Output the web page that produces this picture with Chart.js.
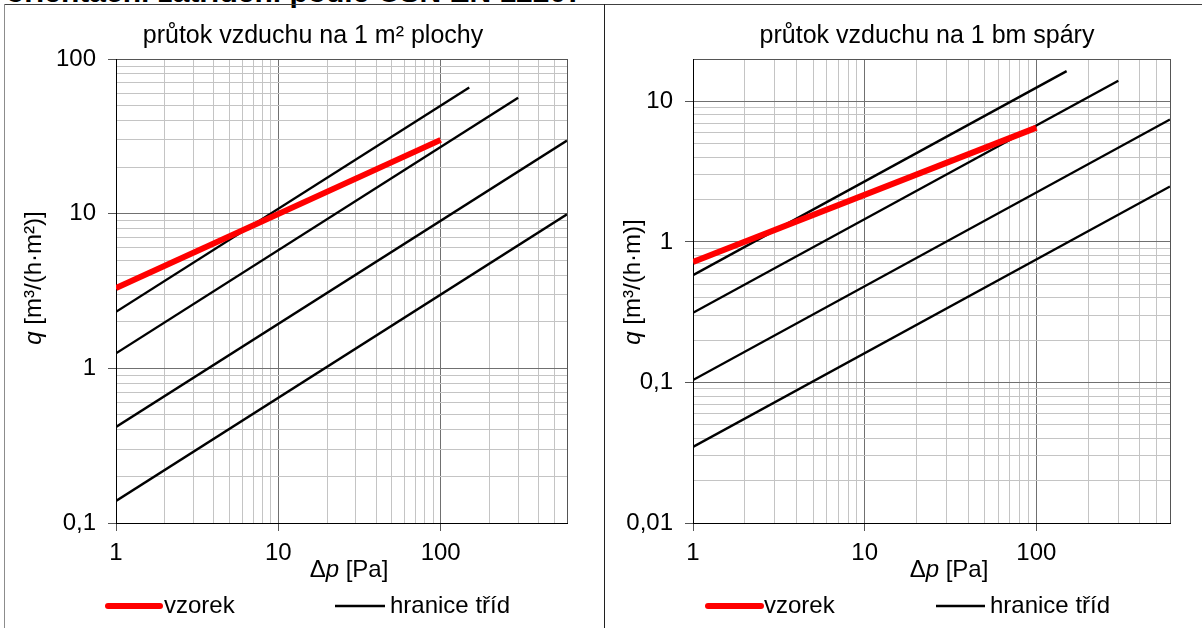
<!DOCTYPE html>
<html>
<head>
<meta charset="utf-8">
<script src="https://cdn.jsdelivr.net/npm/chart.js@4.4.1/dist/chart.umd.min.js"></script>
<style>
  body { margin: 0; background: #fff; width: 1202px; height: 628px; overflow: hidden; position: relative; }
  #heading { position: absolute; left: 6px; top: -23px; font: bold 30px/30px "Liberation Sans", Arial, sans-serif; white-space: nowrap; color: #000; }
  #frameTop { position: absolute; left: 4px; top: 4px; width: 1198px; height: 1px; background: #404040; }
  #frameLeft { position: absolute; left: 4px; top: 4px; width: 1px; height: 624px; background: #8c8c8c; }
  #frameMid { position: absolute; left: 604px; top: 4px; width: 1px; height: 624px; background: #202020; }
  #leftBox { position: absolute; left: 0; top: 0; }
  #rightBox { position: absolute; left: 605px; top: 0; }
</style>
</head>
<body>
<div id="heading">orientační zatřídění podle ČSN EN 12207</div>
<div id="leftBox"><canvas id="areaChart" width="604" height="628"></canvas></div>
<div id="rightBox"><canvas id="lengthChart" width="597" height="628"></canvas></div>
<div id="frameTop"></div>
<div id="frameLeft"></div>
<div id="frameMid"></div>
<script>
/******************************************************************
DATA
******************************************************************/

// tick / gridline values
var pressureTicks = [1, 2, 3, 4, 5, 6, 7, 8, 9, 10, 20, 30, 40, 50, 60, 70, 80, 90, 100, 200, 300, 400, 500, 600];
var pressureMajor = [1, 10, 100];
var pressureLabels = ["1", "10", "100"];

var areaTicks = [0.1, 0.2, 0.3, 0.4, 0.5, 0.6, 0.7, 0.8, 0.9, 1, 2, 3, 4, 5, 6, 7, 8, 9, 10, 20, 30, 40, 50, 60, 70, 80, 90, 100];
var areaMajor = [0.1, 1, 10, 100];
var areaLabels = ["0,1", "1", "10", "100"];

var lengthTicks = [0.01, 0.02, 0.03, 0.04, 0.05, 0.06, 0.07, 0.08, 0.09, 0.1, 0.2, 0.3, 0.4, 0.5, 0.6, 0.7, 0.8, 0.9, 1, 2, 3, 4, 5, 6, 7, 8, 9, 10, 20];
var lengthMajor = [0.01, 0.1, 1, 10];
var lengthLabels = ["0,01", "0,1", "1", "10"];

// vzorek (sample)
var samplePressure = [1, 100];
var sampleArea = [3.3, 30];
var sampleLength = [0.72, 6.5];

// hranice tříd (class limits 1..4)
var classPressure = [[1, 150], [1, 300], [1, 600], [1, 600]];
var classArea = [[2.32, 65.5], [1.25, 56.2], [0.418, 29.7], [0.139, 9.9]];
var classLength = [[0.58, 16.4], [0.313, 14.0], [0.104, 7.43], [0.0348, 2.48]];

/******************************************************************
HELPERS
******************************************************************/

var FONT = '"Liberation Sans", Arial, sans-serif';

function points(xs, ys) {
  return xs.map(function (x, i) { return { x: x, y: ys[i] }; });
}

function buildDatasets(sample, classes) {
  var sets = [{
    label: "vzorek",
    data: points(samplePressure, sample),
    borderColor: "#ff0000",
    borderWidth: 6,
    showLine: true,
    pointRadius: 0
  }];
  classes.forEach(function (c, i) {
    sets.push({
      label: "hranice tříd",
      data: points(classPressure[i], c),
      borderColor: "#000000",
      borderWidth: 2.4,
      showLine: true,
      pointRadius: 0
    });
  });
  return sets;
}

function logScale(ticks, majors, labels, min, max, fit) {
  return {
    type: "logarithmic",
    min: min,
    max: max,
    afterBuildTicks: function (scale) {
      scale.ticks = ticks.map(function (v) { return { value: v }; });
    },
    afterFit: fit,
    border: { display: true, color: "#000", width: 1 },
    grid: {
      drawTicks: true,
      tickLength: 8,
      lineWidth: 1,
      color: function (ctx) {
        if (!ctx.tick) return "#c4c4c4";
        var v = ctx.tick.value;
        if (v === max) return "#555";
        return majors.indexOf(v) >= 0 ? "#707070" : "#c4c4c4";
      },
      tickColor: function (ctx) {
        if (!ctx.tick) return "rgba(0,0,0,0)";
        return majors.indexOf(ctx.tick.value) >= 0 ? "#555" : "rgba(0,0,0,0)";
      }
    },
    ticks: {
      autoSkip: false,
      maxRotation: 0,
      minRotation: 0,
      color: "#000",
      font: { family: FONT, size: 24 },
      callback: function (value) {
        var i = majors.indexOf(value);
        return i >= 0 ? labels[i] : "";
      }
    }
  };
}

function drawRich(ctx, parts, cx, cy, rotate, baseline, size) {
  var widths = parts.map(function (p) {
    ctx.font = (p.italic ? "italic " : "") + size + "px " + FONT;
    return ctx.measureText(p.t).width;
  });
  var total = widths.reduce(function (a, b) { return a + b; }, 0);
  ctx.save();
  ctx.translate(cx, cy);
  if (rotate) ctx.rotate(-Math.PI / 2);
  ctx.textBaseline = baseline;
  ctx.textAlign = "left";
  var x = -total / 2;
  parts.forEach(function (p, i) {
    ctx.font = (p.italic ? "italic " : "") + size + "px " + FONT;
    ctx.fillText(p.t, x, 0);
    x += widths[i];
  });
  ctx.restore();
}

// titles, axis titles and legend drawn onto the canvas
var decor = {
  id: "decor",
  afterDraw: function (chart, args, opts) {
    var ctx = chart.ctx;
    ctx.save();
    ctx.fillStyle = "#000";
    drawRich(ctx, [{ t: opts.title }], opts.titleX, opts.titleY, false, "alphabetic", 25);
    drawRich(ctx, opts.yTitle, opts.yTitleX, opts.yTitleY, true, "middle", 24);
    drawRich(ctx, [{ t: "Δ" }, { t: "p", italic: true }, { t: " [Pa]" }], opts.xTitleX, opts.xTitleY, false, "alphabetic", 24);

    opts.legend.forEach(function (item) {
      var ds = chart.data.datasets[item.dataset];
      ctx.beginPath();
      ctx.strokeStyle = ds.borderColor;
      ctx.lineWidth = ds.borderWidth;
      ctx.lineCap = item.dataset === 0 ? "round" : "butt";
      ctx.moveTo(item.x1, opts.legendY);
      ctx.lineTo(item.x2, opts.legendY);
      ctx.stroke();
      ctx.font = "24px " + FONT;
      ctx.textBaseline = "alphabetic";
      ctx.textAlign = "left";
      ctx.fillText(ds.label, item.textX, opts.legendTextY);
    });
    ctx.restore();
  }
};

function makeChart(id, sample, classes, yTicks, yMajor, yLabels, yMin, yMax, yWidth, padRight, decorOpts) {
  var context = document.getElementById(id).getContext("2d");
  var yScale = logScale(yTicks, yMajor, yLabels, yMin, yMax, function (scale) { scale.width = yWidth; });
  yScale.ticks.padding = 12;
  var xScale = logScale(pressureTicks, pressureMajor, pressureLabels, 1, 600, function (scale) { scale.height = 40; });
  xScale.ticks.padding = 8;

  return new Chart(context, {
    type: "scatter",
    data: { datasets: buildDatasets(sample, classes) },
    options: {
      responsive: false,
      animation: false,
      devicePixelRatio: 1,
      layout: { padding: { left: 0, right: padRight, top: 59, bottom: 65 } },
      scales: { x: xScale, y: yScale },
      plugins: {
        legend: { display: false },
        tooltip: { enabled: false },
        title: { display: false },
        decor: decorOpts
      }
    },
    plugins: [decor]
  });
}

/******************************************************************
CHARTS
******************************************************************/

var areaChart = makeChart("areaChart", sampleArea, classArea,
  areaTicks, areaMajor, areaLabels, 0.1, 100, 116, 37, {
    title: "průtok vzduchu na 1 m² plochy", titleX: 313, titleY: 43,
    yTitle: [{ t: "q", italic: true }, { t: " [m³/(h·m²)]" }], yTitleX: 34, yTitleY: 278,
    xTitleX: 349, xTitleY: 577,
    legendY: 606, legendTextY: 613,
    legend: [{ dataset: 0, x1: 108, x2: 160, textX: 164 }, { dataset: 1, x1: 335, x2: 385, textX: 390 }]
  });

var lengthChart = makeChart("lengthChart", sampleLength, classLength,
  lengthTicks, lengthMajor, lengthLabels, 0.01, 20, 88, 32, {
    title: "průtok vzduchu na 1 bm spáry", titleX: 322, titleY: 43,
    yTitle: [{ t: "q", italic: true }, { t: " [m³/(h·m)]" }], yTitleX: 28, yTitleY: 282,
    xTitleX: 344, xTitleY: 577,
    legendY: 606, legendTextY: 613,
    legend: [{ dataset: 0, x1: 103, x2: 156, textX: 159 }, { dataset: 1, x1: 331, x2: 380, textX: 385 }]
  });
</script>
</body>
</html>
